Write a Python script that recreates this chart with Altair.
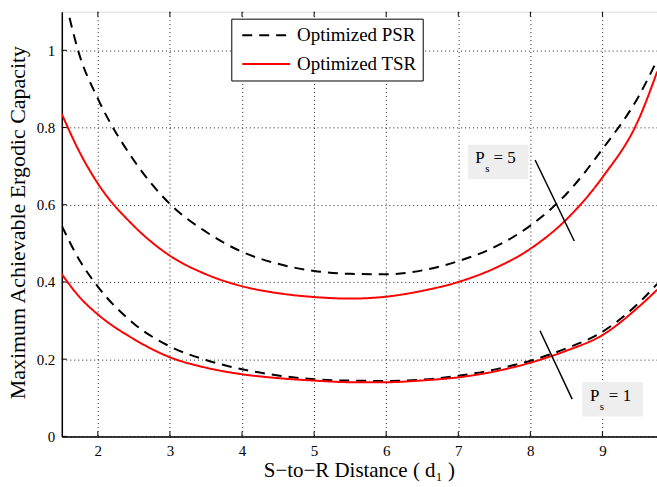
import altair as alt
import pandas as pd

# ---- data ----
x_grid = [1.5, 1.75, 2.0, 2.5, 3.0, 3.5, 4.0, 4.5, 5.0, 5.5, 6.0, 6.5, 7.0, 7.5, 8.0, 8.5, 9.0, 9.5, 9.76]

y_psr5 = [1.17, 0.985, 0.875, 0.715, 0.602, 0.530, 0.478, 0.447, 0.4285, 0.421, 0.42, 0.43, 0.454, 0.49, 0.546, 0.628, 0.744, 0.88, 0.975]
y_tsr5 = [0.835, 0.735, 0.655, 0.545, 0.468, 0.420, 0.389, 0.371, 0.361, 0.357, 0.362, 0.377, 0.40, 0.435, 0.486, 0.562, 0.671, 0.82, 0.945]
y_psr1 = [0.545, 0.455, 0.388, 0.292, 0.233, 0.198, 0.174, 0.158, 0.148, 0.1445, 0.1437, 0.147, 0.157, 0.173, 0.196, 0.228, 0.271, 0.345, 0.395]
y_tsr1 = [0.42, 0.36, 0.316, 0.252, 0.205, 0.178, 0.161, 0.151, 0.1446, 0.1405, 0.1404, 0.145, 0.153, 0.168, 0.191, 0.222, 0.2625, 0.335, 0.38]

series_names = ["Optimized PSR", "Optimized TSR"]
series_colors = ["black", "red"]

x_ticks = [2, 3, 4, 5, 6, 7, 8, 9]
y_ticks = [0, 0.2, 0.4, 0.6, 0.8, 1.0]

# annotation boxes / labels / pointer lines
ann_box_x = [7.134, 8.72]
ann_box_x2 = [7.973, 9.56]
ann_box_y = [0.667, 0.0516]
ann_box_y2 = [0.7555, 0.141]
ann_p_x = [7.236, 8.826]
ann_s_x = [7.374, 8.964]
ann_eq_x = [7.489, 9.089]
ann_base_y = [0.7073, 0.0922]
ann_sub_y = [0.684, 0.069]
ann_eq_text = ["= 5", "= 1"]
ann_line_x = [8.066, 8.134]
ann_line_x2 = [8.609, 8.58]
ann_line_y = [0.716, 0.2736]
ann_line_y2 = [0.506, 0.0965]

XMIN, XMAX = 1.5, 9.757
YMIN, YMAX = 0.0, 1.1

# ---- tables ----
rows = []
for name, ps, ys_ in [
    ("Optimized PSR", "5", y_psr5),
    ("Optimized TSR", "5", y_tsr5),
    ("Optimized PSR", "1", y_psr1),
    ("Optimized TSR", "1", y_tsr1),
]:
    for xv, yv in zip(x_grid, ys_):
        rows.append({"x": xv, "y": yv, "series": name, "ps": ps})
df = pd.DataFrame(rows)

ann = pd.DataFrame({
    "bx": ann_box_x, "bx2": ann_box_x2, "by": ann_box_y, "by2": ann_box_y2,
    "px": ann_p_x, "sx": ann_s_x, "ex": ann_eq_x,
    "yb": ann_base_y, "ys": ann_sub_y, "eq": ann_eq_text,
    "lx": ann_line_x, "lx2": ann_line_x2, "ly": ann_line_y, "ly2": ann_line_y2,
})

FONT = "Liberation Serif"

xs = alt.Scale(domain=[XMIN, XMAX], nice=False, zero=False)
ys = alt.Scale(domain=[YMIN, YMAX], nice=False, zero=False)

grid_kw = dict(grid=True, gridColor="#222222", gridDash=[1, 3], gridWidth=1, gridOpacity=1)

x_axis = alt.Axis(
    values=x_ticks, format="d", ticks=False, tickSize=0,
    labelFont=FONT, labelFontSize=15, labelColor="black", labelPadding=19,
    labelBaseline="alphabetic",
    title="S\u2212to\u2212R Distance ( d\u2081 )", titleFont=FONT, titleFontSize=21,
    titleFontWeight="normal", titleColor="black",
    titleX=298, titleY=40, titleBaseline="alphabetic", titleAlign="center",
    domainColor="black", domainWidth=1.5, **grid_kw,
)
y_axis = alt.Axis(
    values=y_ticks, format="~g", ticks=False, tickSize=0,
    labelFont=FONT, labelFontSize=15, labelColor="black", labelPadding=7,
    title="Maximum Achievable Ergodic Capacity", titleFont=FONT, titleFontSize=22,
    titleFontWeight="normal", titleColor="black",
    titleX=-37, titleY=211, titleBaseline="alphabetic", titleAlign="center", titleAngle=270,
    domainColor="black", domainWidth=1.5, **grid_kw,
)

legend_kw = dict(
    orient="none", legendX=170, legendY=7, title=None,
    fillColor="white", strokeColor="black", padding=6,
    symbolType="M-2.526,0H2.526", symbolSize=361, symbolStrokeWidth=2,
    symbolOffset=18.5,
    labelFont=FONT, labelFontSize=19, labelColor="black",
    labelOffset=20.5, rowPadding=8,
)

lines = alt.Chart(df).mark_line(strokeWidth=2, clip=True, interpolate="monotone").encode(
    x=alt.X("x:Q", scale=xs, axis=x_axis),
    y=alt.Y("y:Q", scale=ys, axis=y_axis),
    color=alt.Color("series:N", scale=alt.Scale(domain=series_names, range=series_colors),
                    legend=alt.Legend(**legend_kw)),
    strokeDash=alt.StrokeDash("series:N",
                              scale=alt.Scale(domain=series_names, range=[[10, 7], [1, 0]]),
                              legend=alt.Legend(**legend_kw)),
    detail="ps:N",
)

# inward tick marks
xt_df = pd.DataFrame({"x": x_ticks})
yt_df = pd.DataFrame({"y": y_ticks})
xt_bottom = alt.Chart(xt_df).mark_rule(color="black", strokeWidth=1).encode(
    x="x:Q", y=alt.datum(0.0), y2=alt.datum(0.013))
xt_top = alt.Chart(xt_df).mark_rule(color="black", strokeWidth=1).encode(
    x="x:Q", y=alt.datum(1.1), y2=alt.datum(1.087))
yt_left = alt.Chart(yt_df).mark_rule(color="black", strokeWidth=1).encode(
    y="y:Q", x=alt.datum(1.5), x2=alt.datum(1.569))

boxes = alt.Chart(ann).mark_rect(color="#eeeeee").encode(
    x="bx:Q", x2="bx2", y="by:Q", y2="by2")
ptxt = alt.Chart(ann).mark_text(text="P", font=FONT, fontSize=17, align="left",
                                baseline="alphabetic", color="black").encode(x="px:Q", y="yb:Q")
stxt = alt.Chart(ann).mark_text(text="s", font=FONT, fontSize=11, align="left",
                                baseline="alphabetic", color="black").encode(x="sx:Q", y="ys:Q")
etxt = alt.Chart(ann).mark_text(font=FONT, fontSize=17, align="left",
                                baseline="alphabetic", color="black").encode(
    x="ex:Q", y="yb:Q", text="eq:N")
pointers = alt.Chart(ann).mark_rule(color="black", strokeWidth=1.5).encode(
    x="lx:Q", x2="lx2", y="ly:Q", y2="ly2")

chart = alt.layer(
    boxes, xt_bottom, xt_top, yt_left, lines, pointers, ptxt, stxt, etxt
).properties(
    width=597, height=426,
    autosize=alt.AutoSizeParams(type="none"),
    padding={"left": 62, "top": 11, "right": 0, "bottom": 50},
).configure_view(
    stroke="black", strokeWidth=1.5
).configure(background="white")

chart.save("out.html", embed_options={"renderer": "svg", "actions": False})
